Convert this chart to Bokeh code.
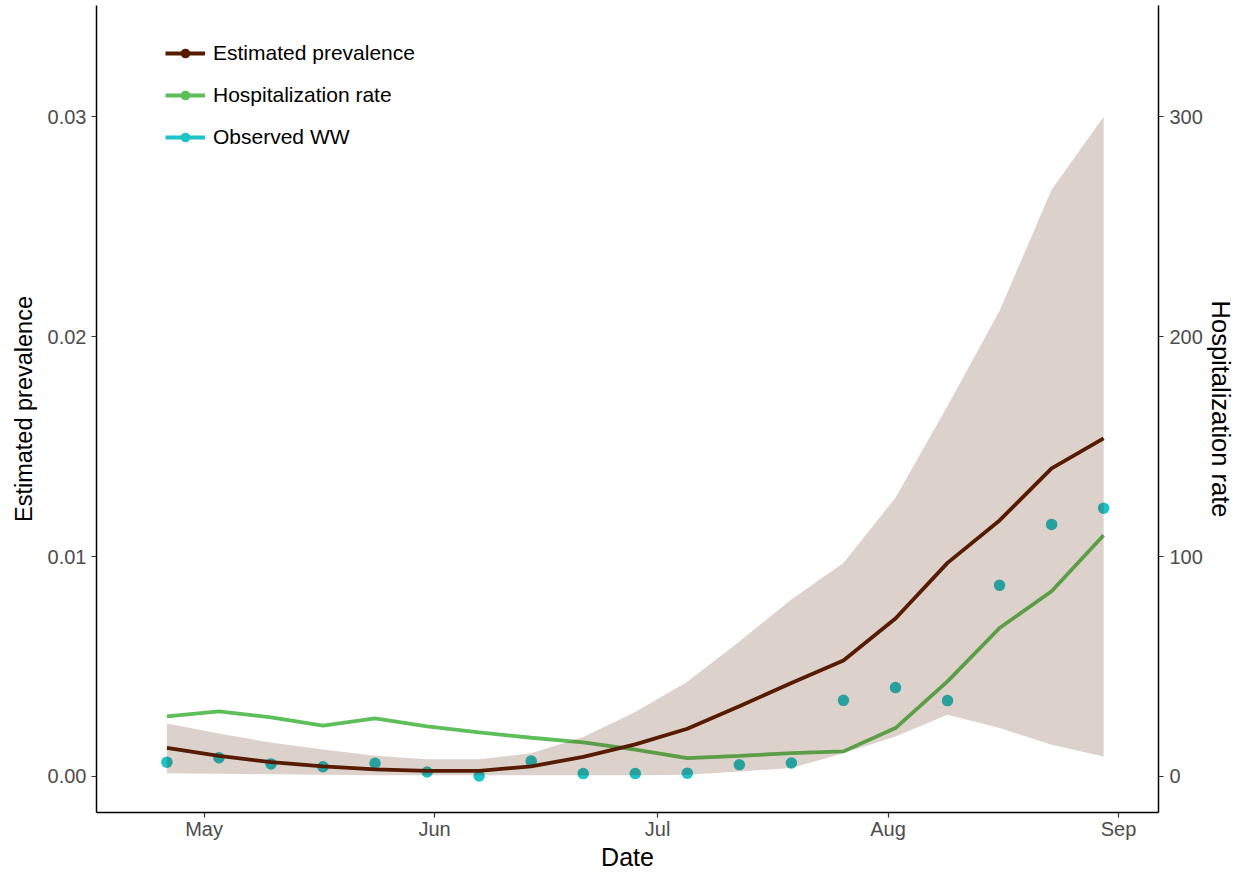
import pandas as pd
from bokeh.plotting import figure
from bokeh.models import (Range1d, LinearAxis, FixedTicker, DatetimeTickFormatter,
                          PrintfTickFormatter, Legend, LegendItem, ColumnDataSource)
from bokeh.embed import file_html
from bokeh.resources import INLINE

# ---------------- data ----------------
dates = ["2023-04-26", "2023-05-03", "2023-05-10", "2023-05-17", "2023-05-24",
         "2023-05-31", "2023-06-07", "2023-06-14", "2023-06-21", "2023-06-28",
         "2023-07-05", "2023-07-12", "2023-07-19", "2023-07-26", "2023-08-02",
         "2023-08-09", "2023-08-16", "2023-08-23", "2023-08-30"]
prevalence = [0.00130, 0.00094, 0.00065, 0.00046, 0.00032, 0.00025, 0.00025,
              0.00046, 0.00089, 0.00146, 0.00217, 0.00319, 0.00425, 0.00527,
              0.00718, 0.00971, 0.01164, 0.01401, 0.01537]
prev_lower = [0.00015, 0.00012, 0.00010, 0.00008, 0.00006, 0.00005, 0.00005,
              0.00005, 0.00005, 0.00006, 0.00008, 0.00023, 0.00038, 0.00106,
              0.00182, 0.00281, 0.00220, 0.00144, 0.00091]
prev_upper = [0.00241, 0.00195, 0.00154, 0.00122, 0.00094, 0.00078, 0.00078,
              0.00106, 0.00179, 0.00293, 0.00431, 0.00614, 0.00804, 0.00971,
              0.01267, 0.01684, 0.02117, 0.02667, 0.03000]
hosp_rate = [27.3, 29.6, 26.9, 23.1, 26.4, 22.8, 20.0, 17.6, 15.5, 12.2,
             8.3, 9.4, 10.6, 11.4, 22.0, 43.2, 67.5, 84.2, 109.7]
observed_ww = [0.00065, 0.00085, 0.00057, 0.00044, 0.00060, 0.00020, 0.00002,
               0.00070, 0.00013, 0.00013, 0.00015, 0.00053, 0.00061, 0.00346,
               0.00404, 0.00345, 0.00869, 0.01146, 0.01220]
month_ticks = ["2023-05-01", "2023-06-01", "2023-07-01", "2023-08-01", "2023-09-01"]
left_ticks = [0.0, 0.01, 0.02, 0.03]
right_ticks = [0, 100, 200, 300]
scale_factor = 10000  # hospitalization axis = prevalence * 10000

# ---------------- styling ----------------
BROWN = "#561B00"
GREEN = "#5EBF5A"
CYAN = "#1DC3C6"
FONT = "Liberation Sans"

src = ColumnDataSource(dict(
    date=pd.to_datetime(dates), prev=prevalence, lo=prev_lower, hi=prev_upper,
    hosp=hosp_rate, ww=observed_ww))

y0, y1 = -0.001639, 0.035053
p = figure(width=1240, height=873, x_axis_type="datetime",
           output_backend="svg", toolbar_location=None,
           x_range=Range1d(pd.Timestamp("2023-04-16 12:43"), pd.Timestamp("2023-09-06 09:07")),
           y_range=Range1d(y0, y1),
           min_border_left=96, min_border_right=82, min_border_top=5, min_border_bottom=0)
p.extra_y_ranges = {"hosp": Range1d(y0 * scale_factor, y1 * scale_factor)}

p.xgrid.visible = False
p.ygrid.visible = False
p.outline_line_color = None
p.background_fill_color = "white"
p.border_fill_color = "white"

# draw order: green line, dots, ribbon, brown line
r_green = p.line("date", "hosp", source=src, y_range_name="hosp",
                 line_color=GREEN, line_width=3.8)
r_dots = p.scatter("date", "ww", source=src, size=11.5, fill_color=CYAN,
                   line_color=None)
p.varea(x="date", y1="lo", y2="hi", source=src, fill_color=BROWN, fill_alpha=0.2)
r_brown = p.line("date", "prev", source=src, line_color=BROWN, line_width=3.8)

# dummy (undrawable NaN) renderers used only to compose legend glyphs
nan_src = ColumnDataSource(dict(x=[float("nan")], y=[float("nan")]))
d_brown_pt = p.scatter("x", "y", source=nan_src, size=9, fill_color=BROWN, line_color=None)
d_green_pt = p.scatter("x", "y", source=nan_src, size=9, fill_color=GREEN, line_color=None)
d_cyan_ln = p.line("x", "y", source=nan_src, line_color=CYAN, line_width=3.8)
d_cyan_pt = p.scatter("x", "y", source=nan_src, size=9, fill_color=CYAN, line_color=None)

# axes
xa = p.xaxis[0]
xa.ticker = FixedTicker(ticks=[pd.Timestamp(m).value / 1e6 for m in month_ticks])
xa.formatter = DatetimeTickFormatter(months="%b", days="%b", hours="%b",
                                     years="%b", minutes="%b")
xa.axis_label = "Date"

ya = p.yaxis[0]
ya.ticker = FixedTicker(ticks=left_ticks)
ya.formatter = PrintfTickFormatter(format="%.2f")
ya.axis_label = "Estimated prevalence"

ra = LinearAxis(y_range_name="hosp", axis_label="Hospitalization rate",
                ticker=FixedTicker(ticks=right_ticks))
p.add_layout(ra, "right")

for ax in (xa, ya, ra):
    ax.axis_line_color = "black"
    ax.axis_line_width = 1.5
    ax.major_tick_line_color = "#333333"
    ax.major_tick_line_width = 1.2
    ax.major_tick_out = 5
    ax.major_tick_in = 0
    ax.minor_tick_line_color = None
    ax.major_label_text_font = FONT
    ax.major_label_text_font_size = "20px"
    ax.major_label_text_color = "#4D4D4D"
    ax.axis_label_text_font = FONT
    ax.axis_label_text_font_style = "normal"
    ax.axis_label_text_color = "black"
xa.axis_label_text_font_size = "25px"
ya.axis_label_text_font_size = "23.5px"
ra.axis_label_text_font_size = "25.5px"
xa.major_label_standoff = 0
xa.axis_label_standoff = 0
ya.major_label_standoff = 5
ya.axis_label_standoff = 8
ra.major_label_standoff = 6
ra.axis_label_standoff = 1

legend = Legend(items=[
    LegendItem(label="Estimated prevalence", renderers=[r_brown, d_brown_pt]),
    LegendItem(label="Hospitalization rate", renderers=[r_green, d_green_pt]),
    LegendItem(label="Observed WW", renderers=[d_cyan_ln, d_cyan_pt]),
], location=(69, 663), padding=0, margin=0, spacing=18,
   glyph_width=40, glyph_height=24, label_height=24, label_standoff=8,
   label_text_font=FONT, label_text_font_size="21px", label_text_color="black",
   background_fill_alpha=0, border_line_alpha=0)
p.add_layout(legend, "center")

open("out.html", "w").write(file_html(p, INLINE))
